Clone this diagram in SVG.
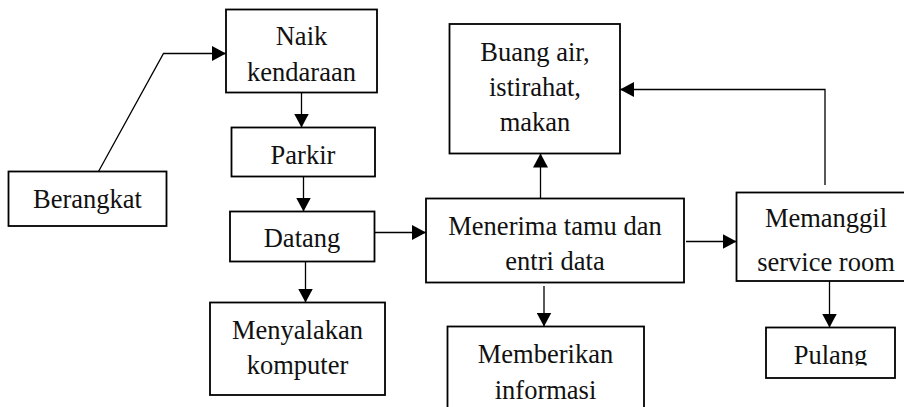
<svg xmlns="http://www.w3.org/2000/svg" width="904" height="407" viewBox="0 0 904 407">
  <style>
    .box { fill: #fff; stroke: #000; stroke-width: 1.8; }
    .lbl { font-family: "Liberation Serif", "Times New Roman", serif; font-size: 26.5px; fill: #111; text-anchor: middle; }
    .edge { fill: none; stroke: #000; stroke-width: 1.3; marker-end: url(#arrow); }
  </style>
  <defs>
    <marker id="arrow" markerUnits="userSpaceOnUse" markerWidth="15" markerHeight="15" refX="14" refY="7.5" orient="auto">
      <path d="M0,0 L14,7.5 L0,15 Z" fill="#000"/>
    </marker>
    <clipPath id="pulangClip">
      <rect x="766" y="327" width="130" height="38.5"/>
    </clipPath>
  </defs>
  <rect width="904" height="407" fill="#fff"/>

  <g id="connectors">
    <polyline class="edge" points="98.5,171.5 163.5,53.5 226,53.5"/>
    <line class="edge" x1="301.5" y1="92.5" x2="301.5" y2="127.5"/>
    <line class="edge" x1="303.5" y1="176.5" x2="303.5" y2="211.5"/>
    <line class="edge" x1="305.5" y1="261.5" x2="305.5" y2="302.5"/>
    <line class="edge" x1="374.5" y1="232.5" x2="426" y2="232.5"/>
    <line class="edge" x1="540.5" y1="198" x2="540.5" y2="153.5"/>
    <line class="edge" x1="544" y1="286" x2="544" y2="326.5"/>
    <line class="edge" x1="686" y1="241.5" x2="736.5" y2="241.5"/>
    <polyline class="edge" points="825,185 825,89.5 620,89.5"/>
    <line class="edge" x1="829.5" y1="281" x2="829.5" y2="327.5"/>
  </g>

  <g id="berangkat">
    <rect class="box" x="8.5" y="171.5" width="158" height="54.5"/>
    <text class="lbl" x="87.5" y="208">Berangkat</text>
  </g>
  <g id="naik-kendaraan">
    <rect class="box" x="226" y="9.5" width="151" height="83"/>
    <text class="lbl" x="301.5" y="45">Naik</text>
    <text class="lbl" x="301.5" y="80.5">kendaraan</text>
  </g>
  <g id="parkir">
    <rect class="box" x="231.5" y="127.5" width="143.5" height="49"/>
    <text class="lbl" x="303" y="164">Parkir</text>
  </g>
  <g id="datang">
    <rect class="box" x="230" y="211.5" width="144.5" height="50"/>
    <text class="lbl" x="302" y="246.5">Datang</text>
  </g>
  <g id="menyalakan-komputer">
    <rect class="box" x="210" y="302.5" width="175" height="92.5"/>
    <text class="lbl" x="297.5" y="338.5">Menyalakan</text>
    <text class="lbl" x="297.5" y="374">komputer</text>
  </g>
  <g id="buang-air">
    <rect class="box" x="449.5" y="24" width="170.5" height="129.5"/>
    <text class="lbl" x="535" y="60.5">Buang air,</text>
    <text class="lbl" x="535" y="95.5">istirahat,</text>
    <text class="lbl" x="535" y="130.5">makan</text>
  </g>
  <g id="menerima-tamu">
    <rect class="box" x="426" y="198.5" width="258" height="84"/>
    <text class="lbl" x="555" y="235">Menerima tamu dan</text>
    <text class="lbl" x="555" y="270">entri data</text>
  </g>
  <g id="memberikan-informasi">
    <rect class="box" x="447.5" y="326.5" width="196.5" height="92"/>
    <text class="lbl" x="545.5" y="363">Memberikan</text>
    <text class="lbl" x="545.5" y="398.5">informasi</text>
  </g>
  <g id="memanggil-service-room">
    <rect class="box" x="736.5" y="192.5" width="180" height="88.5"/>
    <text class="lbl" x="826" y="226.5">Memanggil</text>
    <text class="lbl" x="826" y="270.5">service room</text>
  </g>
  <g id="pulang">
    <rect class="box" x="766" y="327.5" width="129" height="50.5"/>
    <text class="lbl" x="830.5" y="363.5" clip-path="url(#pulangClip)">Pulang</text>
  </g>
</svg>
